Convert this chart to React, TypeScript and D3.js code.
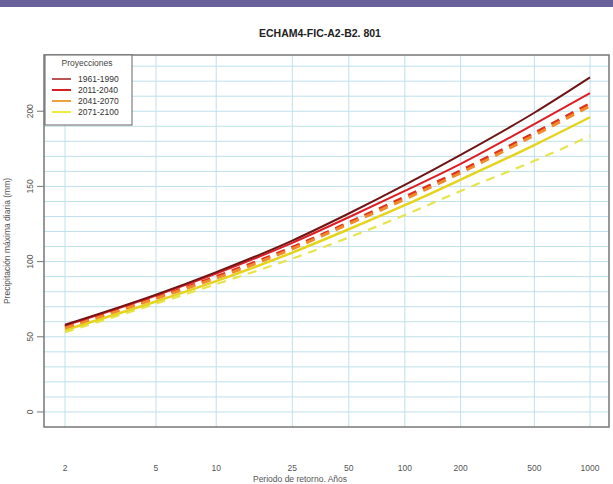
import React from "react";
import * as d3 from "d3";

const returnPeriods = [2, 5, 10, 25, 50, 100, 200, 500, 1000];
const tickLabels = ["2", "5", "10", "25", "50", "100", "200", "500", "1000"];
const yTicks = [0, 50, 100, 150, 200];

const s1961 = [58, 78, 93, 114, 132, 151, 171, 199, 222.5];
const s2011 = [57.5, 77.5, 92, 112.5, 129.5, 147, 165, 191.5, 212];
const s2011b = [56.5, 76, 90, 109.5, 126, 143, 160.5, 185.5, 205];
const s2041 = [56, 75.5, 89, 108.5, 125, 141.5, 159, 184, 203.5];
const s2071 = [54.5, 73.5, 87, 106, 121.5, 137.5, 154.5, 177.5, 196];
const s2071b = [53, 72, 85, 102, 116, 131, 147, 167, 183.5];

const legendLabels = ["1961-1990", "2011-2040", "2041-2070", "2071-2100"];
const legendColors = ["#a01c1c", "#d81e22", "#f0a23a", "#ecec3a"];

const gumbel = (T: number) => -Math.log(-Math.log(1 - 1 / T));

export default function App() {
  const W = 613, H = 484;
  const left = 44, right = 609, top = 55, bottom = 427;
  const x = d3.scaleLinear().domain([gumbel(2), gumbel(1000)]).range([65, 590]);
  const y = d3.scaleLinear().domain([-10, 237.4]).range([bottom, top]);
  const line = d3
    .line<number>()
    .x((_, i) => x(gumbel(returnPeriods[i])))
    .y((d) => y(d))
    .curve(d3.curveMonotoneX);

  const series = [
    { data: s2071b, color: "#e6e44e", w: 2.2, dash: "9,7" },
    { data: s2071, color: "#e6d41c", w: 2.5, dash: "" },
    { data: s2011b, color: "#e0301c", w: 3, dash: "9,7" },
    { data: s2041, color: "#f08a2a", w: 3, dash: "9,7" },
    { data: s2011, color: "#dc1e26", w: 2, dash: "" },
    { data: s1961, color: "#701414", w: 2, dash: "" },
  ];

  const hGrid = d3.range(0, 240, 10);
  const font = "'Liberation Sans', Arial, sans-serif";

  return (
    <svg width={W} height={H} style={{ position: "absolute", left: 0, top: 0, background: "#fff" }} fontFamily={font}>
      <rect x={0} y={0} width={W} height={H} fill="#fff" />
      <rect x={0} y={0} width={W} height={7} fill="#67639a" />
      <text x={320} y={37} textAnchor="middle" fontWeight="bold" fontSize={10.5} fill="#222">
        ECHAM4-FIC-A2-B2. 801
      </text>
      <g>
        {hGrid.map((v) => (
          <line key={"h" + v} x1={left} x2={right} y1={y(v)} y2={y(v)} stroke="#bfe0ec" strokeWidth={1} />
        ))}
        {returnPeriods.map((T) => (
          <line key={"v" + T} x1={x(gumbel(T))} x2={x(gumbel(T))} y1={top} y2={bottom} stroke="#bfe0ec" strokeWidth={1} />
        ))}
      </g>
      <g>
        {series.map((s, i) => (
          <path
            key={i}
            d={line(s.data) || ""}
            fill="none"
            stroke={s.color}
            strokeWidth={s.w}
            strokeDasharray={s.dash || undefined}
          />
        ))}
      </g>
      <rect x={left} y={top} width={right - left} height={bottom - top} fill="none" stroke="#777" strokeWidth={1.5} />
      {yTicks.map((v) => (
        <g key={"yt" + v}>
          <line x1={left - 7} x2={left} y1={y(v)} y2={y(v)} stroke="#777" strokeWidth={1} />
          <text
            transform={`translate(${left - 11},${y(v)}) rotate(-90)`}
            textAnchor="middle"
            fontSize={8.5}
            fill="#555"
          >
            {v}
          </text>
        </g>
      ))}
      <text
        transform={`translate(10,${(top + bottom) / 2}) rotate(-90)`}
        textAnchor="middle"
        fontSize={8.5}
        fill="#555"
      >
        Precipitación máxima diaria (mm)
      </text>
      {returnPeriods.map((T, i) => (
        <text key={"xt" + T} x={x(gumbel(T))} y={471} textAnchor="middle" fontSize={8.5} fill="#555">
          {tickLabels[i]}
        </text>
      ))}
      <text x={300} y={482} textAnchor="middle" fontSize={8.5} fill="#555">
        Periodo de retorno. Años
      </text>
      <g>
        <rect x={45} y={top} width={87} height={70} fill="#fff" stroke="#666" strokeWidth={1} />
        <text x={87} y={66} textAnchor="middle" fontSize={8.5} fill="#444">
          Proyecciones
        </text>
        {legendLabels.map((lab, i) => (
          <g key={lab}>
            <line x1={52} x2={71} y1={79 + i * 11} y2={79 + i * 11} stroke={legendColors[i]} strokeWidth={i === 0 ? 1.5 : 2} />
            <text x={78} y={82 + i * 11} fontSize={8.5} fill="#333">
              {lab}
            </text>
          </g>
        ))}
      </g>
    </svg>
  );
}
